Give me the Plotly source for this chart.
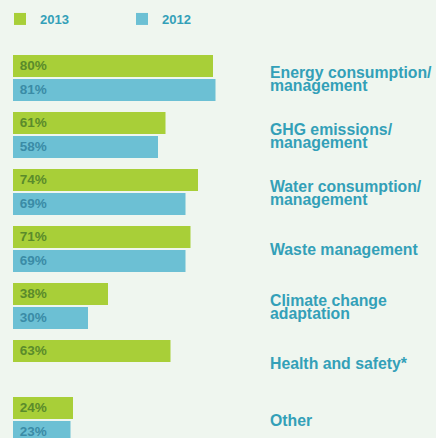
import plotly.graph_objects as go

categories = [
    "Energy consumption/\nmanagement",
    "GHG emissions/\nmanagement",
    "Water consumption/\nmanagement",
    "Waste management",
    "Climate change\nadaptation",
    "Health and safety*",
    "Other",
]
values_2013 = [80, 61, 74, 71, 38, 63, 24]
values_2012 = [81, 58, 69, 69, 30, None, 23]
series_names = ["2013", "2012"]

GREEN = "#a8cf38"
BLUE = "#6cc0d4"
GREEN_TXT = "#5a8b2b"
BLUE_TXT = "#3a8ba6"
TEAL = "#33a0b8"
BG = "#eff6ef"
FONT = "Liberation Sans, Arial, Helvetica, sans-serif"

fig = go.Figure()
for name, vals, col, tcol in [
    (series_names[0], values_2013, GREEN, GREEN_TXT),
    (series_names[1], values_2012, BLUE, BLUE_TXT),
]:
    fig.add_trace(go.Bar(
        y=categories, x=vals, name=name, orientation="h",
        marker=dict(color=col, line=dict(width=0)),
        texttemplate=" %{x}%", textposition="inside", insidetextanchor="start",
        textfont=dict(family=FONT, size=13.5, color=tcol, weight="bold"),
        hoverinfo="skip",
    ))

annotations = []
for cat in categories:
    lines = cat.split("\n")
    n = len(lines)
    for i, line in enumerate(lines):
        shift = (i - (n - 1) / 2) * -12.8 - 1
        annotations.append(dict(
            x=100, y=cat, xref="x", yref="y", text=line, showarrow=False,
            xanchor="left", yanchor="middle", xshift=5, yshift=shift,
            font=dict(family=FONT, size=15.8, color=TEAL, weight="bold"),
        ))

fig.update_layout(
    width=436, height=438,
    margin=dict(l=13, r=173, t=50, b=0),
    paper_bgcolor=BG, plot_bgcolor=BG,
    barmode="group", bargap=0.158, bargroupgap=0.0833,
    xaxis=dict(range=[0, 100], visible=False, fixedrange=True),
    yaxis=dict(type="category", categoryarray=categories, range=[6.316, -0.491],
               showticklabels=False, showgrid=False, zeroline=False, fixedrange=True),
    showlegend=True,
    legend=dict(orientation="h", x=0, xanchor="left", xref="container",
                y=1 - 4 / 438, yanchor="top", yref="container",
                entrywidth=77, entrywidthmode="pixels",
                font=dict(family=FONT, size=13, color=TEAL, weight="bold"),
                bgcolor="rgba(0,0,0,0)", traceorder="normal"),
    annotations=annotations,
    hovermode=False,
)
fig.write_html(
    "out.html",
    config={"displayModeBar": False, "staticPlot": True},
    post_script="document.body.style.margin='0';document.body.style.overflow='hidden';",
)
